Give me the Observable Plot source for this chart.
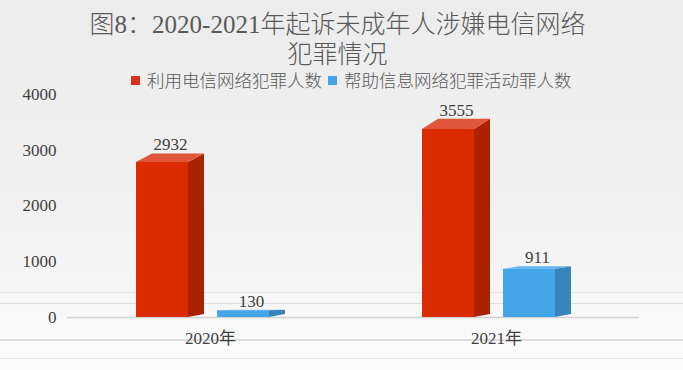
<!DOCTYPE html>
<html><head><meta charset="utf-8">
<script src="https://cdn.jsdelivr.net/npm/d3@7"></script>
<script src="https://cdn.jsdelivr.net/npm/@observablehq/plot@0.6"></script>
<style>
html,body{margin:0;padding:0;}
body{width:683px;height:370px;overflow:hidden;position:relative;
  background:linear-gradient(#ececec 0%,#f1f1f1 55%,#f9f9f9 100%);
  font-family:"Liberation Serif","Noto Sans CJK SC",serif;}
#floor{position:absolute;left:0;top:278px;width:683px;height:92px;
  background:
    linear-gradient(#e4e4e4,#e4e4e4) 0 14px/683px 1px no-repeat,
    linear-gradient(#e0e0e0,#e0e0e0) 0 25px/683px 1px no-repeat,
    linear-gradient(#dddddd,#dddddd) 0 61px/683px 2px no-repeat,
    linear-gradient(#e6e6e6,#e6e6e6) 0 80px/683px 1px no-repeat,
    linear-gradient(rgba(255,255,255,0),rgba(255,255,255,0.5));}
#title{position:absolute;left:0;top:10px;width:675px;text-align:center;font-size:25px;line-height:30px;color:#595959;font-weight:300;}
#legend{position:absolute;left:131px;top:71px;height:18px;font-size:17.5px;line-height:18px;color:#595959;display:flex;align-items:center;font-family:"Noto Sans CJK SC",sans-serif;white-space:nowrap;font-weight:300}
.sw{width:9px;height:9px;display:inline-block;margin-right:7px}
.item{display:flex;align-items:center;margin-right:6px}
#chart{position:absolute;left:0;top:88px}
#chart svg{overflow:visible;background:transparent}
</style></head>
<body>
<div id="floor"></div>
<div id="title">图8：2020-2021年起诉未成年人涉嫌电信网络<br>犯罪情况</div>
<div id="legend"></div>
<div id="chart"></div>
<script>
const years = ["2020年", "2021年"];
const seriesNames = ["利用电信网络犯罪人数", "帮助信息网络犯罪活动罪人数"];
const telecomCounts = [2932, 3555];
const helpingCounts = [130, 911];
const yTicks = [0, 1000, 2000, 3000, 4000];

const frontColors = ["#da2c00", "#44a5e9"];
const sideColors = ["#ab2200", "#3584bd"];
const topColors = ["#e1563a", "#62b5ee"];
const legendColors = ["#d93317", "#44a3e6"];

const seriesValues = [telecomCounts, helpingCounts];
const rows = years.flatMap((year, i) => seriesNames.map((series, j) => ({year, series, value: seriesValues[j][i]})));

const K = 0.948; // perspective shrink of the front face
const D = 16;    // depth offset of the 3D face

const legend = document.getElementById("legend");
seriesNames.forEach((s, j) => {
  const it = document.createElement("span");
  it.className = "item";
  it.innerHTML = `<span class="sw" style="background:${legendColors[j]}"></span>${s}`;
  legend.appendChild(it);
});

const chart = Plot.plot({
  width: 683, height: 282,
  marginLeft: 67, marginRight: 44, marginTop: 6, marginBottom: 53,
  style: {background: "transparent", fontFamily: '"Liberation Serif","Noto Sans CJK SC",serif', fontSize: "17px", color: "#404040", overflow: "visible"},
  fx: {domain: years, padding: 0, label: null, tickSize: 0, tickPadding: 14, axis: "bottom"},
  x: {domain: seriesNames, axis: null, paddingInner: 0.354, paddingOuter: 0.921, align: 0.45},
  y: {domain: [0, 4000], ticks: yTicks, tickSize: 0, tickPadding: 11, label: null, tickFormat: d => String(d)},
  color: {domain: seriesNames, range: frontColors},
  marks: [
    Plot.ruleY([0], {stroke: "#d2d2d2", strokeWidth: 1.5}),
    Plot.barY(rows, {
      fx: "year", x: "series", y: "value", fill: "series",
      render(index, scales, values) {
        const {x, y, color} = scales;
        const bw = x.bandwidth();
        const y0 = y(0);
        const g = d3.create("svg:g");
        for (const i of index) {
          const d = rows[i];
          const j = seriesNames.indexOf(d.series);
          const xl = values.x ? values.x[i] : x(d.series);
          const xr = xl + bw;
          const yb = y(d.value), yf = y(K * d.value), yb0 = y0 - 3;
          g.append("path").attr("d", `M${xr},${y0}L${xr},${yf}L${xr + D},${yb}L${xr + D},${yb0}Z`).attr("fill", sideColors[j]);
          g.append("path").attr("d", `M${xl},${yf}L${xr},${yf}L${xr + D},${yb}L${xl + D},${yb}Z`).attr("fill", topColors[j]);
          g.append("path").attr("d", `M${xl},${y0}L${xl},${yf}L${xr},${yf}L${xr},${y0}Z`).attr("fill", color(d.series));
        }
        return g.node();
      }
    }),
    Plot.text(rows, {fx: "year", x: "series", y: "value", text: d => String(d.value), dy: -9, dx: 8, fontSize: 17, fill: "#404040"})
  ]
});
document.getElementById("chart").appendChild(chart);
</script>
</body></html>
